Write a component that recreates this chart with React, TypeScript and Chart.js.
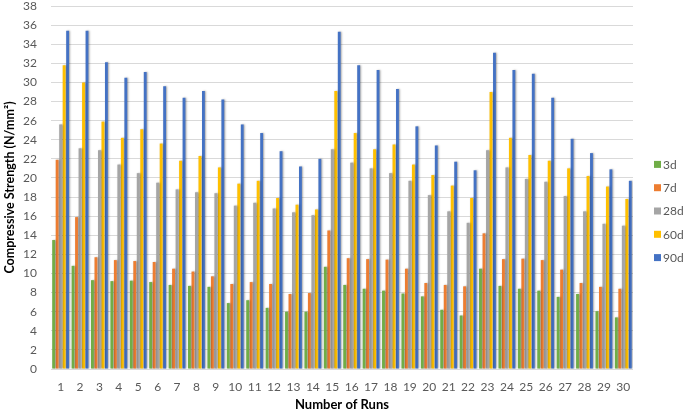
import React, { useEffect, useRef } from 'react';
import { Chart, registerables } from 'chart.js';

Chart.register(...registerables);

const categories = ['1','2','3','4','5','6','7','8','9','10','11','12','13','14','15','16','17','18','19','20','21','22','23','24','25','26','27','28','29','30'];
const seriesLabels = ['3d', '7d', '28d', '60d', '90d'];
const values3d = [13.5, 10.8, 9.3, 9.2, 9.25, 9.1, 8.8, 8.7, 8.6, 6.9, 7.2, 6.4, 6.0, 6.0, 10.7, 8.8, 8.4, 8.2, 7.9, 7.6, 6.2, 5.6, 10.5, 8.7, 8.4, 8.2, 7.55, 7.85, 6.05, 5.4];
const values7d = [21.9, 15.9, 11.7, 11.4, 11.3, 11.2, 10.5, 10.2, 9.7, 8.9, 9.1, 8.9, 7.85, 7.95, 14.5, 11.6, 11.5, 11.45, 10.5, 9.0, 8.8, 8.65, 14.2, 11.5, 11.55, 11.4, 10.4, 9.0, 8.6, 8.4];
const values28d = [25.6, 23.1, 22.9, 21.4, 20.5, 19.5, 18.8, 18.5, 18.4, 17.1, 17.4, 16.8, 16.4, 16.1, 23.0, 21.6, 21.0, 20.5, 19.7, 18.2, 16.5, 15.3, 22.9, 21.1, 19.9, 19.6, 18.1, 16.5, 15.2, 15.0];
const values60d = [31.8, 30.0, 25.9, 24.2, 25.1, 23.6, 21.8, 22.3, 21.1, 19.4, 19.7, 17.9, 17.2, 16.7, 29.1, 24.7, 23.0, 23.5, 21.4, 20.3, 19.2, 17.9, 29.0, 24.2, 22.4, 21.8, 21.0, 20.2, 19.1, 17.8];
const values90d = [35.4, 35.4, 32.1, 30.5, 31.1, 29.6, 28.4, 29.1, 28.2, 25.6, 24.7, 22.8, 21.2, 22.0, 35.3, 31.8, 31.3, 29.3, 25.4, 23.4, 21.7, 20.8, 33.1, 31.3, 30.9, 28.4, 24.1, 22.6, 20.9, 19.7];
const colors = ['#70AD47', '#ED7D31', '#A5A5A5', '#FFC000', '#4472C4'];
const yTitle = 'Compressive Strength (N/mm²)';
const xTitle = 'Number of Runs';

const FONT = 'Lato, "Open Sans", sans-serif';

const shadowPlugin = {
  id: 'barShadow',
  beforeDatasetsDraw(chart: any) {
    const c = chart.ctx;
    c.save();
    c.shadowColor = 'rgba(0,0,0,0.35)';
    c.shadowBlur = 2;
    c.shadowOffsetX = 1;
    c.shadowOffsetY = 0;
  },
  afterDatasetsDraw(chart: any) {
    chart.ctx.restore();
  },
};

const sideLegend = {
  id: 'sideLegend',
  afterDraw(chart: any) {
    const c = chart.ctx;
    const area = chart.chartArea;
    const x = area.right + 21;
    const gap = 23.3;
    const cy = (area.top + area.bottom) / 2 + 23.5;
    const ds = chart.data.datasets;
    c.save();
    c.font = `12px ${FONT}`;
    c.textBaseline = 'middle';
    c.textAlign = 'left';
    ds.forEach((d: any, i: number) => {
      const y = cy + (i - (ds.length - 1) / 2) * gap;
      c.fillStyle = d.backgroundColor;
      c.fillRect(x, y - 3.5, 7, 7);
      c.fillStyle = '#595959';
      c.fillText(d.label, x + 9, y + 0.5);
    });
    c.restore();
  },
};

export default function App() {
  const ref = useRef<HTMLCanvasElement | null>(null);
  useEffect(() => {
    document.body.style.margin = '0';
    if (!ref.current) return;
    const seriesValues = [values3d, values7d, values28d, values60d, values90d];
    const chart = new Chart(ref.current, {
      type: 'bar',
      data: {
        labels: categories,
        datasets: seriesLabels.map((label, i) => ({
          label,
          data: seriesValues[i],
          backgroundColor: colors[i],
          borderWidth: 0,
          categoryPercentage: 0.9,
          barPercentage: 0.82,
        })),
      },
      options: {
        animation: false,
        responsive: false,
        devicePixelRatio: 1,
        layout: { padding: { left: 2, right: 52, top: 0, bottom: 0 } },
        plugins: {
          legend: { display: false },
          tooltip: { enabled: false },
        },
        scales: {
          x: {
            grid: { display: true, drawOnChartArea: false, drawTicks: true, tickLength: 11, color: 'rgba(0,0,0,0)', tickColor: 'rgba(0,0,0,0)' },
            border: { display: false },
            ticks: { color: '#595959', font: { family: FONT, size: 12 }, padding: 0, maxRotation: 0, autoSkip: false },
            title: { display: true, text: xTitle, color: '#000', font: { family: FONT, size: 13, weight: 'bold' }, padding: { top: 3, bottom: 1 } },
          },
          y: {
            min: 0,
            max: 38,
            ticks: { stepSize: 2, color: '#595959', font: { family: FONT, size: 12, lineHeight: 1 }, padding: 0 },
            grid: { color: '#D9D9D9', drawTicks: true, tickLength: 14, tickColor: 'rgba(0,0,0,0)' },
            border: { display: false },
            title: { display: true, text: yTitle, color: '#000', font: { family: FONT, size: 12.5, weight: 'bold' }, padding: { top: 0, bottom: 6 } },
          },
        },
      },
      plugins: [shadowPlugin, sideLegend],
    });
    return () => chart.destroy();
  }, []);
  return (
    <div style={{ position: 'relative', width: 685, height: 414 }}>
      <canvas ref={ref} width={685} height={414} style={{ display: 'block', width: 685, height: 414 }} />
    </div>
  );
}
